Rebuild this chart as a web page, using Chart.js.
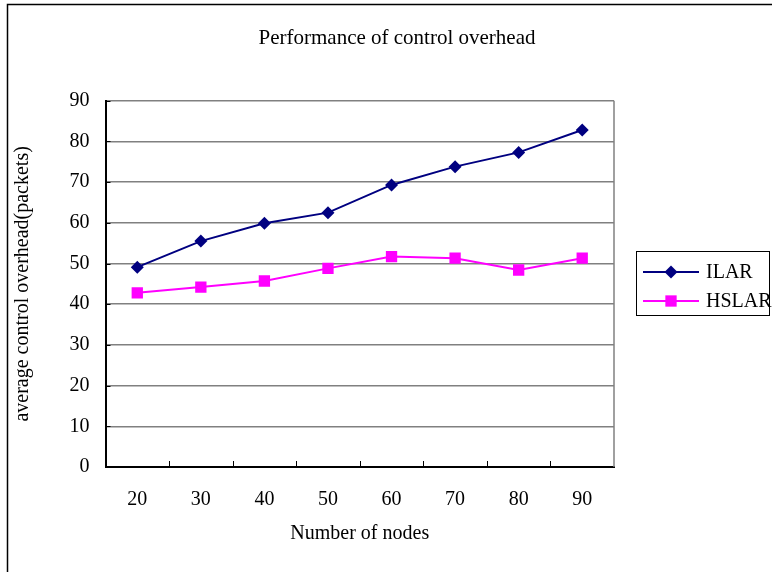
<!DOCTYPE html>
<html>
<head>
<meta charset="utf-8">
<script src="https://cdn.jsdelivr.net/npm/chart.js@4.4.1/dist/chart.umd.min.js"></script>
<style>
  html, body { margin: 0; padding: 0; background: #ffffff; }
  #wrap { width: 772px; height: 572px; }
</style>
</head>
<body>
<div id="wrap"><canvas id="c" width="772" height="572"></canvas></div>
<script>
// Node counts on the x axis
const nodeCounts = ['20', '30', '40', '50', '60', '70', '80', '90'];
// Average control overhead (packets) per scheme
const ilarValues = [49.1, 55.5, 59.9, 62.5, 69.3, 73.8, 77.3, 82.8];
const hslarValues = [42.8, 44.2, 45.7, 48.8, 51.7, 51.3, 48.4, 51.3];
// Y axis ticks
const yTicks = [0, 10, 20, 30, 40, 50, 60, 70, 80, 90];
const chartTitle = 'Performance of control overhead';

const FONT = "'Liberation Serif', 'Times New Roman', serif";

// Outer frame, title, inner tick marks, plot border and boxed legend
const decorations = {
  id: 'decorations',
  beforeDraw(chart) {
    const ctx = chart.ctx;
    ctx.save();
    ctx.fillStyle = '#ffffff';
    ctx.fillRect(0, 0, chart.width, chart.height);
    ctx.strokeStyle = '#000000';
    ctx.lineWidth = 1.5;
    ctx.strokeRect(7.5, 4.5, chart.width + 20, chart.height + 20);
    // chart title
    ctx.fillStyle = '#000000';
    ctx.font = '21px ' + FONT;
    ctx.textAlign = 'center';
    ctx.textBaseline = 'middle';
    ctx.fillText(chartTitle, 397, 38);
    ctx.restore();
  },
  afterDatasetsDraw(chart) {
    const ctx = chart.ctx;
    const x = chart.scales.x, y = chart.scales.y;
    const a = chart.chartArea;
    ctx.save();
    // right border of plot area
    ctx.strokeStyle = '#808080';
    ctx.lineWidth = 1.5;
    ctx.beginPath();
    ctx.moveTo(a.right, a.top);
    ctx.lineTo(a.right, a.bottom);
    ctx.stroke();
    // inner tick marks
    ctx.strokeStyle = '#000000';
    ctx.lineWidth = 1;
    ctx.beginPath();
    yTicks.forEach(v => {
      const py = Math.round(y.getPixelForValue(v)) + 0.5;
      ctx.moveTo(a.left, py);
      ctx.lineTo(a.left + 5, py);
    });
    for (let i = 1; i < nodeCounts.length; i++) {
      const px = Math.round(x.getPixelForValue(i - 0.5)) + 0.5;
      ctx.moveTo(px, a.bottom);
      ctx.lineTo(px, a.bottom - 6);
    }
    ctx.stroke();
    ctx.restore();
  },
  afterDraw(chart) {
    const ctx = chart.ctx;
    ctx.save();
    const bx = 636.5, by = 251.5, bw = 133, bh = 64;
    ctx.strokeStyle = '#000000';
    ctx.lineWidth = 1;
    ctx.strokeRect(bx, by, bw, bh);
    const rows = [272, 301];
    chart.data.datasets.forEach((ds, i) => {
      const yy = rows[i];
      ctx.strokeStyle = ds.borderColor;
      ctx.lineWidth = ds.borderWidth;
      ctx.beginPath();
      ctx.moveTo(643, yy);
      ctx.lineTo(699, yy);
      ctx.stroke();
      ctx.fillStyle = ds.pointBackgroundColor;
      const cx = 671, r = ds.pointRadius;
      ctx.beginPath();
      if (ds.pointStyle === 'rectRot') {
        ctx.moveTo(cx, yy - r);
        ctx.lineTo(cx + r, yy);
        ctx.lineTo(cx, yy + r);
        ctx.lineTo(cx - r, yy);
        ctx.closePath();
      } else {
        const h = r * Math.SQRT1_2;
        ctx.rect(cx - h, yy - h, 2 * h, 2 * h);
      }
      ctx.fill();
      ctx.fillStyle = '#000000';
      ctx.font = '20px ' + FONT;
      ctx.textBaseline = 'middle';
      ctx.textAlign = 'left';
      ctx.fillText(ds.label, 706, yy + 1);
    });
    ctx.restore();
  }
};

new Chart(document.getElementById('c'), {
  type: 'line',
  data: {
    labels: nodeCounts,
    datasets: [
      {
        label: 'ILAR',
        data: ilarValues,
        borderColor: '#000080',
        backgroundColor: '#000080',
        pointBackgroundColor: '#000080',
        pointBorderColor: '#000080',
        pointStyle: 'rectRot',
        pointRadius: 6.5,
        pointBorderWidth: 0,
        borderWidth: 2,
        tension: 0
      },
      {
        label: 'HSLAR',
        data: hslarValues,
        borderColor: '#ff00ff',
        backgroundColor: '#ff00ff',
        pointBackgroundColor: '#ff00ff',
        pointBorderColor: '#ff00ff',
        pointStyle: 'rect',
        pointRadius: 8,
        pointBorderWidth: 0,
        borderWidth: 2,
        tension: 0
      }
    ]
  },
  options: {
    responsive: false,
    animation: false,
    devicePixelRatio: 1,
    layout: { padding: { left: 0, right: 158, top: 100.7, bottom: 0 } },
    plugins: {
      legend: { display: false },
      tooltip: { enabled: false },
      title: { display: false }
    },
    scales: {
      x: {
        type: 'category',
        offset: true,
        grid: { display: false, drawTicks: false },
        border: { display: true, color: '#000000', width: 2 },
        ticks: {
          color: '#000000',
          font: { family: FONT, size: 20 },
          padding: 21,
          maxRotation: 0
        },
        title: {
          display: true,
          text: 'Number of nodes',
          color: '#000000',
          font: { family: FONT, size: 20 },
          padding: { top: 0, bottom: 26 }
        },
        afterFit(scale) { scale.height = 105; }
      },
      y: {
        min: 0,
        max: 90,
        afterBuildTicks(scale) { scale.ticks = yTicks.map(v => ({ value: v })); },
        grid: { color: '#808080', lineWidth: 1.5, drawTicks: false },
        border: { display: true, color: '#000000', width: 2 },
        ticks: {
          color: '#000000',
          font: { family: FONT, size: 20 },
          padding: 16
        },
        title: {
          display: true,
          text: 'average control overhead(packets)',
          color: '#000000',
          font: { family: FONT, size: 20 },
          padding: { top: 11, bottom: 0 }
        },
        afterFit(scale) { scale.width = 105.5; }
      }
    }
  },
  plugins: [decorations]
});
</script>
</body>
</html>
